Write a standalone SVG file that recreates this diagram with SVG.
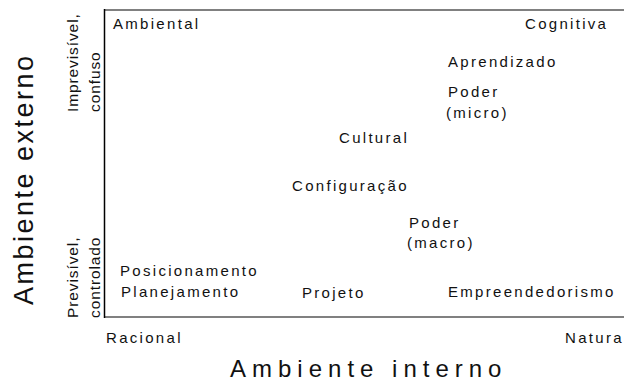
<svg xmlns="http://www.w3.org/2000/svg" width="624" height="381" viewBox="0 0 624 381">
<style>
.t{font-family:"Liberation Sans",Arial,sans-serif;font-size:15px;letter-spacing:2.3px;fill:#111}
.s{font-family:"Liberation Sans",Arial,sans-serif;font-size:15.5px;letter-spacing:0.9px;fill:#111}
.big{font-family:"Liberation Sans",Arial,sans-serif;fill:#111}
</style>
<rect width="624" height="381" fill="#fff"/>
<g id="frame">
<line x1="104" y1="10" x2="624" y2="10" stroke="#808080" stroke-width="2"/>
<line x1="104" y1="317" x2="624" y2="317" stroke="#808080" stroke-width="2"/>
<line x1="104.5" y1="9" x2="104.5" y2="318" stroke="#000" stroke-width="1.5"/>
</g>
<g id="connectors"></g>
<g id="ambiental"><text class="t" x="113" y="29">Ambiental</text></g>
<g id="cognitiva"><text class="t" x="525" y="29">Cognitiva</text></g>
<g id="aprendizado"><text class="t" x="448" y="67">Aprendizado</text></g>
<g id="poder-micro"><text class="t" x="448" y="97">Poder</text><text class="t" x="446" y="118">(micro)</text></g>
<g id="cultural"><text class="t" x="339" y="143">Cultural</text></g>
<g id="configuracao"><text class="t" x="292" y="191">Configuração</text></g>
<g id="poder-macro"><text class="t" x="409" y="228">Poder</text><text class="t" x="407" y="248">(macro)</text></g>
<g id="posicionamento"><text class="t" x="120" y="276">Posicionamento</text></g>
<g id="planejamento"><text class="t" x="121" y="297">Planejamento</text></g>
<g id="projeto"><text class="t" x="302" y="298">Projeto</text></g>
<g id="empreendedorismo"><text class="t" x="448" y="297">Empreendedorismo</text></g>
<g id="x-axis">
<text class="t" x="106" y="343">Racional</text>
<text class="t" x="565" y="343">Natura</text>
<text class="big" x="230" y="377" font-size="24" letter-spacing="6">Ambiente interno</text>
</g>
<g id="y-axis">
<text class="big" transform="translate(33,305) rotate(-90)" font-size="27" letter-spacing="2.5">Ambiente externo</text>
<text class="s" transform="translate(77.5,112) rotate(-90)">Imprevisível,</text>
<text class="s" transform="translate(100,112) rotate(-90)">confuso</text>
<text class="s" transform="translate(77.5,318) rotate(-90)">Previsível,</text>
<text class="s" transform="translate(100,318) rotate(-90)">controlado</text>
</g>
</svg>
